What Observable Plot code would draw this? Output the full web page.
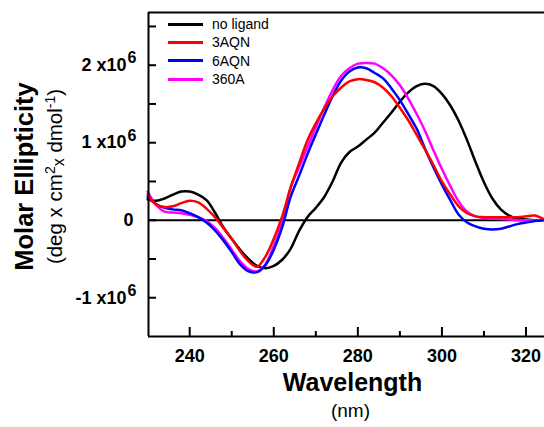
<!DOCTYPE html>
<html><head><meta charset="utf-8">
<script src="https://cdn.jsdelivr.net/npm/d3@7"></script>
<script src="https://cdn.jsdelivr.net/npm/@observablehq/plot@0.6"></script>
<style>
body{margin:0;background:#fff;}
#wrap{position:relative;width:544px;height:427px;overflow:hidden;font-family:"Liberation Sans",Arial,sans-serif;background:#fff;}
#legend{position:absolute;left:168px;top:15px;font-size:14px;color:#000;font-family:"Liberation Sans",Arial,sans-serif;}
.row{height:18.3px;display:flex;align-items:center;white-space:nowrap;}
.sw{width:35px;height:3px;margin-right:9px;}
</style></head><body><div id="wrap"></div>
<script>
// ---- data (values in units of 10^6 deg cm2 dmol-1) ----
const wavelength = [230,232,234,236,238,240,242,244,246,248,250,252,254,256,258,260,262,264,266,268,270,272,274,276,278,280,282,284,286,288,290,292,294,296,298,300,302,304,306,308,310,312,314,316,318,320,322,324];
const noLigand = [0.27,0.25,0.28,0.33,0.37,0.37,0.33,0.26,0.10,-0.09,-0.24,-0.38,-0.50,-0.59,-0.62,-0.59,-0.51,-0.37,-0.14,0.04,0.16,0.30,0.50,0.74,0.88,0.95,1.04,1.13,1.26,1.39,1.53,1.65,1.73,1.76,1.73,1.63,1.48,1.28,1.03,0.75,0.49,0.28,0.14,0.06,0.02,0.01,0.00,0.00];
const aqn3 = [0.33,0.20,0.17,0.18,0.22,0.25,0.23,0.15,0.04,-0.10,-0.24,-0.40,-0.53,-0.60,-0.47,-0.24,0.05,0.42,0.73,1.03,1.25,1.44,1.60,1.71,1.79,1.82,1.81,1.78,1.71,1.60,1.45,1.29,1.10,0.91,0.71,0.50,0.33,0.18,0.09,0.05,0.04,0.04,0.04,0.04,0.04,0.05,0.06,0.02];
const aqn6 = [0.30,0.21,0.16,0.14,0.13,0.09,0.04,-0.03,-0.13,-0.26,-0.41,-0.57,-0.66,-0.67,-0.58,-0.38,-0.09,0.30,0.57,0.85,1.11,1.36,1.60,1.80,1.92,1.97,1.96,1.90,1.83,1.70,1.55,1.37,1.18,0.92,0.68,0.46,0.26,0.07,-0.03,-0.08,-0.11,-0.12,-0.11,-0.08,-0.05,-0.03,-0.01,0.00];
const a360 = [0.37,0.20,0.11,0.10,0.09,0.07,0.04,-0.01,-0.10,-0.23,-0.38,-0.53,-0.63,-0.66,-0.57,-0.33,-0.03,0.42,0.68,0.94,1.20,1.45,1.68,1.86,1.96,2.02,2.03,2.02,1.96,1.87,1.74,1.57,1.37,1.15,0.90,0.66,0.44,0.24,0.11,0.05,0.03,0.02,0.02,0.01,0.00,0.00,0.00,0.00];
const seriesNames = ["no ligand","3AQN","6AQN","360A"];
const seriesColors = ["#000000","#ff0000","#0000ff","#ff00ff"];
const seriesValues = [noLigand, aqn3, aqn6, a360];
const drawOrder = [0, 3, 2, 1];

const xTicksMajor = [240,260,280,300,320];
const xTicksMinor = [250,270,290,310];
const yTicks = [-1,-0.5,0,0.5,1,1.5,2,2.5];
const yLabelValues = [-1,0,1,2];
const yLabelBase = ["-1 x10","0","1 x10","2 x10"];
const yLabelExp = ["6","","6","6"];
const xTitle = "Wavelength";
const xUnits = "(nm)";
const yTitle = "Molar Ellipticity";
const yUnitParts = [["(deg x cm","n"],["2","sup"],["x","sub"],[" dmol","n"],["-1","sup"],[")","n"]];

const xDomain = [230.2, 324.4];
const yDomain = [-1.5, 2.68];
const font = '"Liberation Sans", Arial, sans-serif';

const yLabelRows = yLabelValues.map((v,i)=>({v, base:yLabelBase[i], exp:yLabelExp[i]}));
const yUnitText = yUnitParts.map(p => p[0]).join("");

const plot = Plot.plot({
  width: 544, height: 427,
  marginLeft: 148, marginRight: 0, marginTop: 12, marginBottom: 91,
  x: {domain: xDomain},
  y: {domain: yDomain},
  style: {fontFamily: font, background: "white", color: "black"},
  marks: [
    Plot.ruleY([0], {stroke: "black", strokeWidth: 2}),
    ...drawOrder.map(k => Plot.line(wavelength, {
      x: d => d, y: (d, i) => seriesValues[k][i],
      stroke: seriesColors[k], strokeWidth: 2.5, curve: "catmull-rom"
    })),
    Plot.ruleX([xDomain[0]], {stroke: "black", strokeWidth: 2}),
    Plot.ruleY([yDomain[0], yDomain[1]], {stroke: "black", strokeWidth: 2}),
    Plot.axisX(xTicksMajor, {anchor: "bottom", tickSize: -9, fill: "none", label: null, strokeWidth: 2}),
    Plot.axisX(xTicksMinor, {anchor: "bottom", tickSize: -5, fill: "none", label: null, strokeWidth: 2}),
    Plot.axisY(yTicks, {anchor: "left", tickSize: -8, fill: "none", label: null, strokeWidth: 2}),
    Plot.text(xTicksMajor, {x: d => d, text: d => String(d), frameAnchor: "bottom", dy: 25, fontSize: 18, fontWeight: "bold"}),
    Plot.text(yLabelRows.filter(d => d.exp), {y: "v", text: "base", frameAnchor: "left", textAnchor: "end", dx: -22, fontSize: 18, fontWeight: "bold"}),
    Plot.text(yLabelRows.filter(d => !d.exp), {y: "v", text: "base", frameAnchor: "left", textAnchor: "end", dx: -15, fontSize: 18, fontWeight: "bold"}),
    Plot.text(yLabelRows.filter(d => d.exp), {y: "v", text: "exp", frameAnchor: "left", textAnchor: "start", dx: -21, dy: -7, fontSize: 16, fontWeight: "bold"}),
    Plot.text([xTitle], {text: d => d, frameAnchor: "bottom", textAnchor: "middle", dx: 6, dy: 54, fontSize: 25, fontWeight: "bold"}),
    Plot.text([xUnits], {text: d => d, frameAnchor: "bottom", textAnchor: "middle", dx: 4, dy: 80, fontSize: 19}),
    Plot.text([yTitle], {text: d => d, frameAnchor: "left", textAnchor: "middle", rotate: -90, dx: -124, dy: 2, fontSize: 25.5, fontWeight: "bold"}),
    Plot.text([yUnitText], {text: d => d, frameAnchor: "left", textAnchor: "middle", rotate: -90, dx: -93, dy: 2, fontSize: 20.5})
  ]
});

const wrap = document.getElementById("wrap");
wrap.appendChild(plot);

// superscripts in the unit label
d3.select(plot).selectAll("text").filter(function() { return this.textContent === yUnitText; }).each(function() {
  const t = d3.select(this);
  t.text(null);
  let shift = 0;
  yUnitParts.forEach(([s, kind]) => {
    const target = kind === "sup" ? -7 : kind === "sub" ? 2 : 0;
    const ts = t.append("tspan").text(s);
    if (target !== shift) ts.attr("dy", target - shift);
    if (kind !== "n") ts.attr("font-size", kind === "sup" ? 14 : 16);
    shift = target;
  });
});

// legend
const legend = document.createElement("div");
legend.id = "legend";
seriesNames.forEach((name, i) => {
  const row = document.createElement("div");
  row.className = "row";
  const sw = document.createElement("span");
  sw.className = "sw";
  sw.style.background = seriesColors[i];
  const lab = document.createElement("span");
  lab.textContent = name;
  row.appendChild(sw); row.appendChild(lab);
  legend.appendChild(row);
});
wrap.appendChild(legend);
</script>
</body></html>
